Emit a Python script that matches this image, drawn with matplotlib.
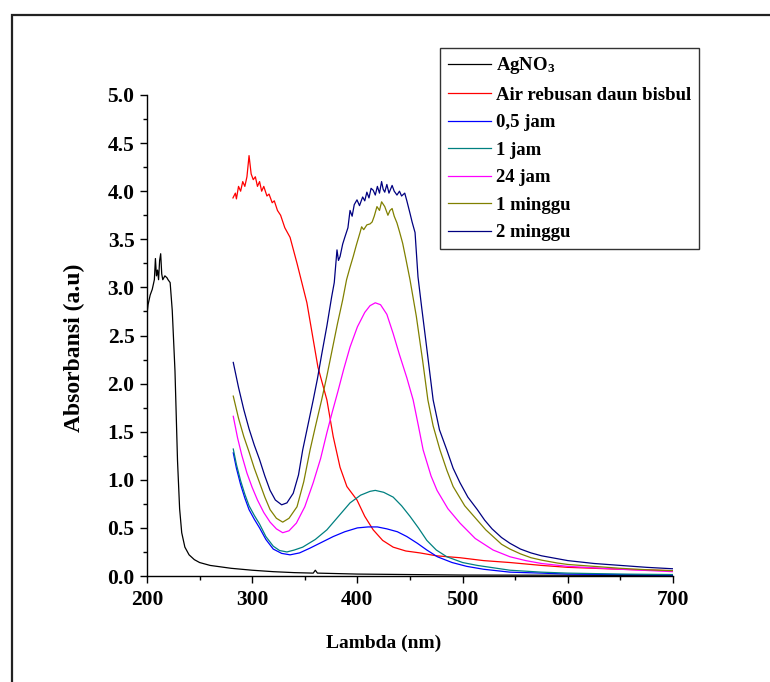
import matplotlib
matplotlib.use("Agg")
import matplotlib.pyplot as plt
from matplotlib.patches import Rectangle
from matplotlib.ticker import MultipleLocator, FormatStrFormatter

plt.rcParams['font.family'] = ['Liberation Serif', 'DejaVu Serif']
plt.rcParams['font.weight'] = 'bold'
plt.rcParams['mathtext.fontset'] = 'custom'
plt.rcParams['mathtext.rm'] = 'Liberation Serif:bold'
plt.rcParams['mathtext.bf'] = 'Liberation Serif:bold'
plt.rcParams['mathtext.it'] = 'Liberation Serif:bold:italic'

# UV-Vis spectra: wavelength (nm) and absorbance (a.u)
agno3_wl = [200, 201, 203, 205, 207, 208, 209, 210, 211, 212, 213, 214, 215, 217, 219, 220,
            222, 224, 226.6, 229, 231, 233, 236, 240, 245, 250, 260, 280, 300, 320, 340,
            358, 360, 362, 400, 450, 500, 600, 700]
agno3_abs = [2.72, 2.82, 2.92, 2.98, 3.08, 3.30, 3.12, 3.18, 3.08, 3.28, 3.35, 3.14, 3.08, 3.12, 3.10, 3.08,
             3.05, 2.76, 2.13, 1.20, 0.70, 0.45, 0.30, 0.22, 0.17, 0.14, 0.11, 0.08, 0.06, 0.045, 0.035,
             0.03, 0.06, 0.03, 0.02, 0.015, 0.01, 0.008, 0.005]

ekstrak_wl = [281.7, 284, 285, 287, 289, 291, 293, 295, 297, 299, 301, 303, 305, 307, 309, 311,
              314, 316, 319, 321, 324, 327, 331, 336, 342.6, 352, 362.5, 371, 377, 383.5, 390,
              399.6, 407, 415, 424, 434, 446, 459.5, 475, 497.5, 520, 545, 575, 600, 650, 700]
ekstrak_abs = [3.93, 3.98, 3.92, 4.05, 4.00, 4.10, 4.05, 4.15, 4.37, 4.18, 4.12, 4.15, 4.05, 4.10, 4.00, 4.05,
               3.95, 3.97, 3.88, 3.90, 3.80, 3.75, 3.62, 3.52, 3.25, 2.84, 2.17, 1.83, 1.45, 1.13, 0.93,
               0.79, 0.62, 0.48, 0.37, 0.30, 0.26, 0.24, 0.21, 0.19, 0.16, 0.14, 0.11, 0.09, 0.07, 0.055]

jam05_wl = [282, 285, 289, 293, 297, 302, 307, 313, 320, 328, 336, 345, 355, 366, 377, 388, 400, 410,
            419, 428, 438, 447, 457, 466, 476, 490, 504, 520, 545, 575, 600, 650, 700]
jam05_abs = [1.28, 1.12, 0.95, 0.81, 0.69, 0.59, 0.50, 0.38, 0.28, 0.235, 0.22, 0.24, 0.29, 0.35, 0.41, 0.46,
             0.50, 0.51, 0.51, 0.49, 0.46, 0.41, 0.34, 0.27, 0.20, 0.14, 0.10, 0.07, 0.04, 0.03, 0.02,
             0.015, 0.01]

jam1_wl = [282, 285, 289, 293, 297, 302, 307, 313, 320, 326, 333, 340, 348, 360, 371, 382, 393, 403,
           412, 417, 425, 434, 442, 450, 458, 466, 475, 485, 500, 514, 545, 575, 600, 650, 700]
jam1_abs = [1.32, 1.16, 0.99, 0.85, 0.73, 0.63, 0.54, 0.41, 0.31, 0.265, 0.25, 0.27, 0.30, 0.38, 0.48,
            0.62, 0.76, 0.84, 0.88, 0.89, 0.87, 0.82, 0.73, 0.62, 0.50, 0.37, 0.27, 0.20, 0.14, 0.11,
            0.06, 0.04, 0.03, 0.02, 0.015]

jam24_wl = [282, 286, 290, 295, 300, 305, 311, 317, 323, 329, 335, 342, 350, 358, 365, 371, 376, 381.5,
            387, 393, 400, 407, 412, 417, 422, 428, 434, 440, 447, 453, 458, 462.5, 470, 475.7, 486,
            497.5, 512, 529, 545, 560, 575, 600, 650, 700]
jam24_abs = [1.66, 1.44, 1.26, 1.07, 0.92, 0.79, 0.66, 0.56, 0.49, 0.45, 0.47, 0.55, 0.72, 0.97, 1.22,
             1.49, 1.70, 1.92, 2.15, 2.38, 2.59, 2.74, 2.81, 2.84, 2.82, 2.72, 2.52, 2.30, 2.06, 1.83,
             1.56, 1.31, 1.04, 0.89, 0.70, 0.55, 0.39, 0.27, 0.20, 0.16, 0.13, 0.10, 0.07, 0.045]

minggu1_wl = [282, 287, 292, 297, 302, 307, 312, 317, 323, 329, 335, 342.6, 349, 355, 360, 366, 371,
              376, 381, 386, 389.7, 393, 396, 399, 402.5, 404, 406, 409, 412, 414, 416, 418.6, 421,
              423, 426, 429, 431, 433, 435, 437.6, 440, 443, 446, 450, 456, 462, 467, 472, 478.5,
              485, 491, 502, 514, 522, 530, 537, 545, 555, 565, 575, 590, 600, 625, 650, 675, 700]
minggu1_abs = [1.87, 1.64, 1.45, 1.29, 1.12, 0.97, 0.82, 0.69, 0.60, 0.56, 0.60, 0.72, 0.98, 1.31, 1.55,
               1.83, 2.08, 2.35, 2.62, 2.87, 3.08, 3.21, 3.32, 3.44, 3.57, 3.63, 3.60, 3.65, 3.66, 3.68,
               3.74, 3.84, 3.80, 3.89, 3.84, 3.75, 3.80, 3.82, 3.74, 3.67, 3.58, 3.46, 3.30, 3.08, 2.70,
               2.24, 1.83, 1.56, 1.31, 1.10, 0.93, 0.73, 0.58, 0.48, 0.40, 0.33, 0.28, 0.23, 0.19, 0.165,
               0.135, 0.12, 0.10, 0.08, 0.065, 0.055]

minggu2_wl = [282, 287, 292, 297, 302, 307, 312, 317, 322, 328, 333, 339, 344, 348, 353, 358, 362, 366,
              371, 375.5, 378, 380.6, 382, 383.5, 386, 388, 391, 393, 395, 397, 399.6, 402,
              405, 407, 409, 411, 413, 415, 417, 419, 421, 423, 424.5, 426, 428, 430, 433,
              435, 437.6, 440, 442, 445, 447, 450, 452, 454.8, 457.6, 461, 465, 472, 478,
              485, 491, 497.5, 505, 514, 521, 528, 537, 545, 555, 565, 575, 590, 600, 625, 650,
              675, 700]
minggu2_abs = [2.22, 1.96, 1.73, 1.53, 1.36, 1.21, 1.04, 0.89, 0.79, 0.74, 0.76, 0.86, 1.05, 1.31, 1.57,
               1.83, 2.05, 2.30, 2.60, 2.90, 3.05, 3.39, 3.28, 3.32, 3.45, 3.52, 3.62, 3.80, 3.74, 3.86,
               3.91, 3.85, 3.94, 3.90, 3.99, 3.93, 4.03, 4.01, 3.96, 4.05, 3.98, 4.10, 4.02, 3.99, 4.07,
               3.98, 4.06, 4.00, 3.96, 4.00, 3.95, 3.98, 3.90, 3.77, 3.68, 3.57, 3.11, 2.80, 2.45, 1.83,
               1.52, 1.31, 1.12, 0.97, 0.82, 0.69, 0.58, 0.49, 0.40, 0.34, 0.28, 0.24, 0.21, 0.18, 0.16,
               0.13, 0.11, 0.09, 0.075]

series = [
    (agno3_wl, agno3_abs, '#000000', 'AgNO$_3$'),
    (ekstrak_wl, ekstrak_abs, '#FF0000', 'Air rebusan daun bisbul'),
    (jam05_wl, jam05_abs, '#0000FF', '0,5 jam'),
    (jam1_wl, jam1_abs, '#008080', '1 jam'),
    (jam24_wl, jam24_abs, '#FF00FF', '24 jam'),
    (minggu1_wl, minggu1_abs, '#808000', '1 minggu'),
    (minggu2_wl, minggu2_abs, '#000080', '2 minggu'),
]

W, H = 770, 682
fig = plt.figure(figsize=(W / 100, H / 100), dpi=100)
ax = fig.add_axes([147 / W, 1 - 576 / H, (673 - 147) / W, (576 - 95) / H])

for wl, ab, col, lab in series:
    ax.plot(wl, ab, color=col, lw=0.9, label=lab)

ax.set_xlim(200, 700)
ax.set_ylim(0, 5.0)
ax.xaxis.set_major_locator(MultipleLocator(100))
ax.xaxis.set_minor_locator(MultipleLocator(50))
ax.yaxis.set_major_locator(MultipleLocator(0.5))
ax.yaxis.set_minor_locator(MultipleLocator(0.25))
ax.yaxis.set_major_formatter(FormatStrFormatter('%.1f'))
for s in ('top', 'right'):
    ax.spines[s].set_visible(False)
for s in ('left', 'bottom'):
    ax.spines[s].set_linewidth(1.0)
ax.tick_params(which='major', direction='out', length=5, width=1.0, labelsize=15.5, pad=5)
ax.tick_params(which='minor', direction='out', length=3, width=1.0)
ax.tick_params(axis='y', which='major', pad=4)

ax.set_xlabel('Lambda (nm)', fontsize=14, fontweight='bold', va='center', ha='center')
ax.xaxis.set_label_coords((384 - 147) / 526, (576 - 643) / 481)
ax.set_ylabel('Absorbansi (a.u)', fontsize=17, fontweight='bold', va='center', ha='center')
ax.yaxis.set_label_coords((74 - 147) / 526, (576 - 348) / 481)

leg = ax.legend(loc='upper left', bbox_to_anchor=(440 / W, 1 - 48 / H),
                bbox_transform=fig.transFigure, borderaxespad=0, frameon=True,
                fancybox=False, edgecolor='#333333', framealpha=1,
                prop={'family': 'Liberation Serif', 'weight': 'bold', 'size': 13.5},
                handlelength=2.3, handletextpad=0.3, labelspacing=0.55, borderpad=0.4)
leg.get_frame().set_linewidth(1.0)

# outer border around the figure area
fig.patches.append(Rectangle((12 / W, -0.2), 1.5, 1.2 - 15 / H, transform=fig.transFigure,
                             fill=False, lw=1.6, edgecolor='#222222', clip_on=False))

fig.savefig('out.png', dpi=100)
